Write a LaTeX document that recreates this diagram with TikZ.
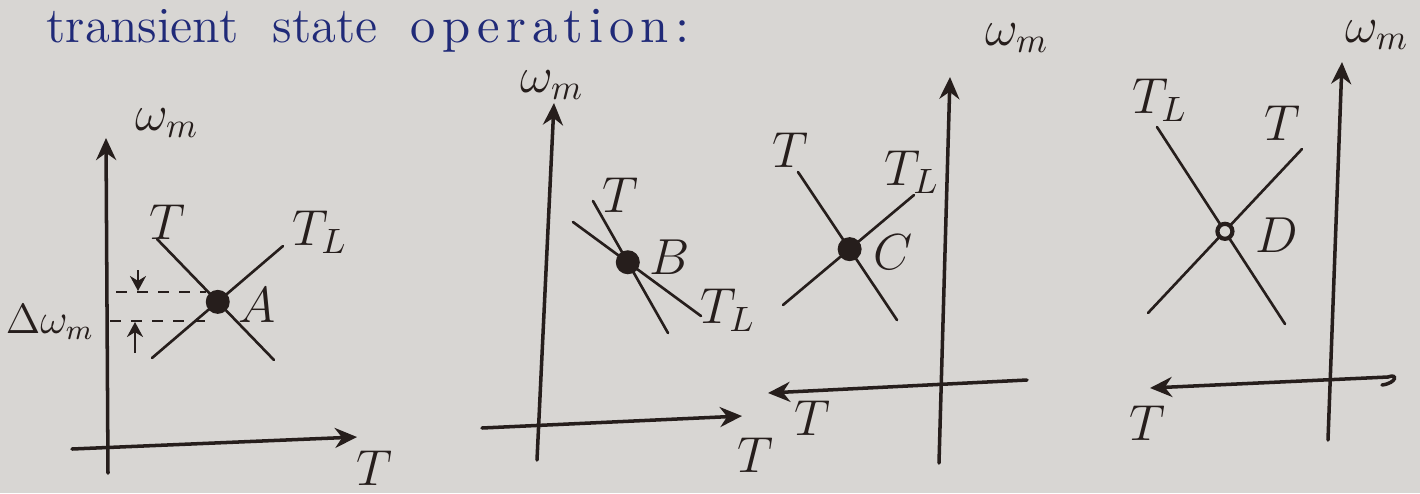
\documentclass[tikz,border=0pt]{standalone}
\usepackage{amsmath}
\usepackage{fontspec}
\newfontfamily\handfont[LetterSpace=12]{lmroman10-regular.otf}
\usepackage{tikz}
\usetikzlibrary{arrows.meta}
\definecolor{paper}{RGB}{216,214,211}
\definecolor{ink}{RGB}{38,30,28}
\definecolor{pen}{RGB}{32,42,120}

\begin{document}
\begin{tikzpicture}[
        x=0.01cm, y=-0.01cm,
        >={Stealth[length=2.2mm, width=2mm]},
        axis/.style={draw=ink, line width=1pt, line cap=round},
        curve/.style={draw=ink, line width=0.75pt, line cap=round},
        lbl/.style={text=ink, font=\Large, inner sep=1pt},
        word/.style={anchor=base west, text=pen, font=\Large, inner sep=0pt},
        dot/.style={circle, fill=ink, inner sep=0pt, minimum size=2.4mm},
        ring/.style={circle, draw=ink, line width=1.2pt, fill=paper, inner sep=0pt, minimum size=1.5mm},
        tick/.style={draw=ink, line width=0.6pt, dashed}
    ]
        \fill[paper] (0,0) rectangle (1420,493);
        \useasboundingbox (0,0) rectangle (1420,493);

        % --- title ---
        \node[word] (w1) at (46,42) {transient};
        \node[word] (w2) at (272,42) {state};
        \node[word] (w3) at (410,42) {\handfont operation:};

        % --- A ---
        \coordinate (ya0) at (108,473);
        \coordinate (ya1) at (106,138);
        \coordinate (xa0) at (72,449);
        \coordinate (xa1) at (357,437);
        \draw[axis,->] (ya0) -- (ya1);
        \draw[axis,->] (xa0) -- (xa1);
        \node[lbl] (wA) at (167,123) {$\omega_m$};
        \node[lbl] (TA) at (374,468) {$T$};

        \coordinate (tA0) at (157,239);
        \coordinate (tA1) at (274,360);
        \coordinate (lA0) at (152,358);
        \coordinate (lA1) at (283,246);
        \draw[curve] (tA0) -- (tA1);
        \draw[curve] (lA0) -- (lA1);
        \node[dot] (ptA) at (intersection of tA0--tA1 and lA0--lA1) {};
        \node[lbl] (lblTA) at (167,222) {$T$};
        \node[lbl] (lblLA) at (320,232) {$T_L$};
        \node[lbl] (A) at (257,305) {$A$};

        \coordinate (hA0) at (116,292);
        \coordinate (hA1) at (206,292);
        \coordinate (hB0) at (110,321);
        \coordinate (hB1) at (205,321);
        \draw[tick] (hA0) -- (hA1);
        \draw[tick] (hB0) -- (hB1);
        \coordinate (dn0) at (138,270);
        \coordinate (dn1) at (138,291);
        \coordinate (up0) at (135,353);
        \coordinate (up1) at (135,322);
        \draw[ink, line width=0.7pt, -{Stealth[length=1.5mm, width=1.6mm]}] (dn0) -- (dn1);
        \draw[ink, line width=0.7pt, -{Stealth[length=1.5mm, width=1.6mm]}] (up0) -- (up1);
        \node[lbl, font=\large] (dw) at (50,322) {$\Delta\omega_m$};

        % --- B ---
        \coordinate (yb0) at (537,460);
        \coordinate (yb1) at (554,103);
        \coordinate (xb0) at (482,428);
        \coordinate (xb1) at (742,416);
        \draw[axis,->] (yb0) -- (yb1);
        \draw[axis,->] (xb0) -- (xb1);
        \node[lbl, inner sep=0pt] (wB) at (552,85) {$\omega_m$};
        \node[lbl] (TB) at (755,455) {$T$};

        \coordinate (tB0) at (593,201);
        \coordinate (tB1) at (668,333);
        \coordinate (lB0) at (573,222);
        \coordinate (lB1) at (701,316);
        \draw[curve] (tB0) -- (tB1);
        \draw[curve] (lB0) -- (lB1);
        \node[dot] (ptB) at (intersection of tB0--tB1 and lB0--lB1) {};
        \node[lbl] (lblTB) at (620,195) {$T$};
        \node[lbl] (lblLB) at (728,310) {$T_L$};
        \node[lbl] (B) at (670,257) {$B$};

        % --- C ---
        \coordinate (yc0) at (939,463);
        \coordinate (yc1) at (950,77);
        \coordinate (xc0) at (1027,380);
        \coordinate (xc1) at (768,393);
        \draw[axis,->] (yc0) -- (yc1);
        \draw[axis,->] (xc0) -- (xc1);
        \node[lbl] (wC) at (1017,38) {$\omega_m$};
        \node[lbl] (TC) at (812,418) {$T$};

        \coordinate (tC0) at (798,172);
        \coordinate (tC1) at (897,320);
        \coordinate (lC0) at (783,305);
        \coordinate (lC1) at (914,195);
        \draw[curve] (tC0) -- (tC1);
        \draw[curve] (lC0) -- (lC1);
        \node[dot] (ptC) at (intersection of tC0--tC1 and lC0--lC1) {};
        \node[lbl] (lblTC) at (790,150) {$T$};
        \node[lbl] (lblLC) at (912,172) {$T_L$};
        \node[lbl] (C) at (893,252) {$C$};

        % --- D ---
        \coordinate (yd0) at (1328,440);
        \coordinate (yd1) at (1342,62);
        \coordinate (xd0) at (1388,377);
        \coordinate (xd1) at (1150,388);
        \coordinate (xd2) at (1382,385);
        \draw[axis,->] (xd0) -- (xd1);
        \draw[axis] (xd0) .. controls (1398,373) and (1397,383) .. (xd2);
        \draw[axis,->] (yd0) -- (yd1);
        \node[lbl] (wD) at (1377,35) {$\omega_m$};
        \node[lbl] (TD) at (1147,423) {$T$};

        \coordinate (lD0) at (1157,127);
        \coordinate (lD1) at (1285,324);
        \coordinate (tD0) at (1148,313);
        \coordinate (tD1) at (1302,149);
        \draw[curve] (lD0) -- (lD1);
        \draw[curve] (tD0) -- (tD1);
        \node[ring] (ptD) at (intersection of tD0--tD1 and lD0--lD1) {};
        \node[lbl] (lblLD) at (1160,100) {$T_L$};
        \node[lbl] (lblTD) at (1282,123) {$T$};
        \node[lbl] (D) at (1277,235) {$D$};
    \end{tikzpicture}
\end{document}
